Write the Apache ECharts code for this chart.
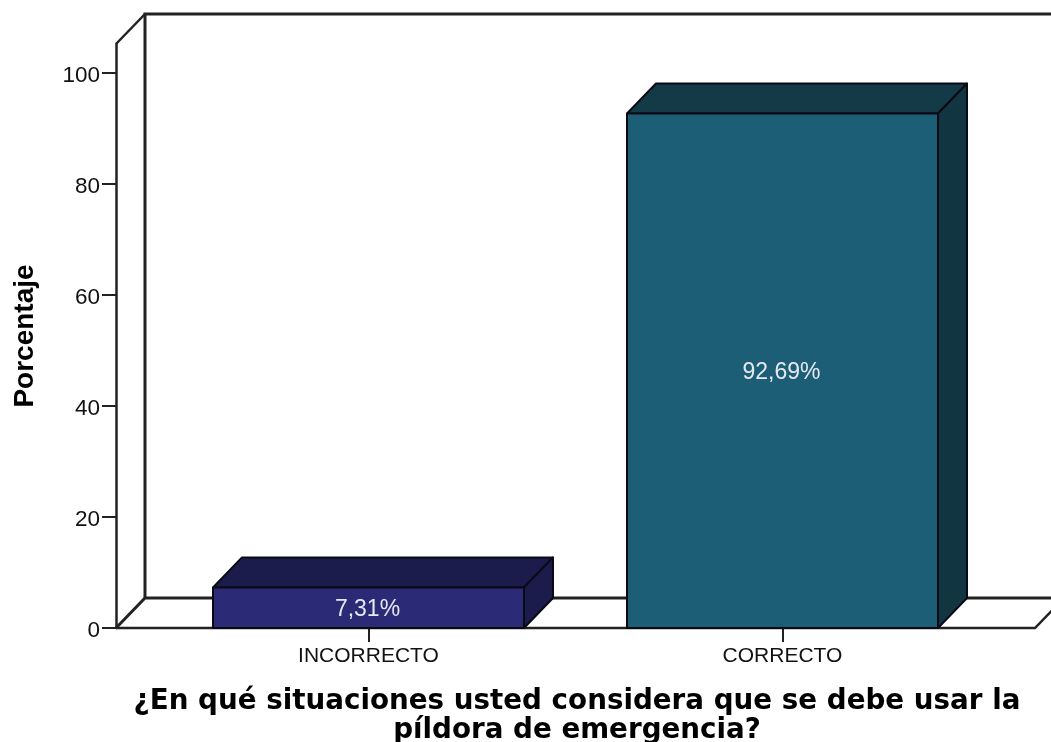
<!DOCTYPE html>
<html>
<head>
<meta charset="utf-8">
<style>html,body{margin:0;padding:0;background:#fff}#chart{width:1051px;height:742px}</style>
<script src="https://cdn.jsdelivr.net/npm/echarts@6/dist/echarts.min.js"></script>
</head>
<body>
<div id="chart"></div>
<script>
const categories = ['INCORRECTO', 'CORRECTO'];
const percentages = [7.31, 92.69];
const percentLabels = ['7,31%', '92,69%'];
const yTickValues = [0, 20, 40, 60, 80, 100];
const frontColors = ['#2a2a76', '#1c5e75'];
const topColors = ['#1b1b4c', '#153a47'];
const sideColors = ['#1b1b4c', '#123641'];

// Oblique depth of the box, and how far the floor runs past the category band.
const depthX = 29, depthY = 30;
const floorOverhang = 45.5;
const yMax = 105.2;
const lineColor = '#222222';

const chart = echarts.init(document.getElementById('chart'), null, {renderer: 'canvas'});

function renderFrame(params, api) {
  const cs = params.coordSys;
  const left = cs.x - floorOverhang, right = cs.x + cs.width + floorOverhang;
  const floor = api.coord([0, 0])[1], top = api.coord([0, yMax])[1];
  const line = (pts, width) => ({
    type: 'polyline',
    shape: {points: pts},
    style: {fill: null, stroke: lineColor, lineWidth: width, lineJoin: 'miter'}
  });
  return {
    type: 'group',
    children: [
      line([[left + depthX, floor - depthY], [left + depthX, top - depthY], [right + depthX, top - depthY]], 3),
      line([[left, top], [left + depthX, top - depthY]], 2.5),
      line([[left, floor], [left + depthX, floor - depthY], [right + depthX, floor - depthY]], 3),
      line([[left, floor], [right, floor], [right + depthX, floor - depthY]], 2.5)
    ]
  };
}

function renderBox(params, api) {
  const i = params.dataIndex;
  const center = api.coord([api.value(0), api.value(1)]);
  const base = api.coord([api.value(0), 0]);
  const half = api.size([1, 0])[0] * 0.3756;
  const x0 = center[0] - half, x1 = center[0] + half, yt = center[1], yb = base[1];
  const edge = {stroke: '#0a0a14', lineWidth: 2, lineJoin: 'round'};
  const poly = (pts, fill) => ({type: 'polygon', shape: {points: pts}, style: Object.assign({fill}, edge)});
  return {
    type: 'group',
    children: [
      poly([[x0, yt], [x0 + depthX, yt - depthY], [x1 + depthX, yt - depthY], [x1, yt]], topColors[i]),
      poly([[x1, yt], [x1 + depthX, yt - depthY], [x1 + depthX, yb - depthY], [x1, yb]], sideColors[i]),
      poly([[x0, yt], [x1, yt], [x1, yb], [x0, yb]], frontColors[i]),
      {
        type: 'text',
        style: {
          x: center[0] - 1, y: (yt + yb) / 2 + 2,
          text: percentLabels[i],
          fill: '#e4e8f0',
          font: '23px "Liberation Sans"',
          align: 'center', verticalAlign: 'middle'
        }
      }
    ]
  };
}

chart.setOption({
  animation: false,
  backgroundColor: '#fff',
  grid: {left: 161.5, right: 61.5, top: 44, bottom: 114, containLabel: false, outerBoundsMode: 'none'},
  xAxis: {
    type: 'category',
    data: categories,
    axisLine: {show: false},
    axisTick: {show: true, alignWithLabel: true, length: 14, lineStyle: {color: lineColor, width: 2}},
    axisLabel: {color: '#111', fontFamily: 'Liberation Sans', fontSize: 21, margin: 18},
    name: '¿En qué situaciones usted considera que se debe usar la\npíldora de emergencia?',
    nameLocation: 'middle',
    nameGap: 59,
    nameMoveOverlap: false,
    nameTextStyle: {color: '#000', fontFamily: 'DejaVu Sans', fontWeight: 'bold', fontSize: 27.75, lineHeight: 29, verticalAlign: 'top', padding: [0, 0, 0, 3]}
  },
  yAxis: {
    type: 'value',
    min: 0,
    max: yMax,
    offset: floorOverhang,
    axisLine: {show: true, lineStyle: {color: lineColor, width: 2.5}},
    axisTick: {show: true, length: 14, customValues: yTickValues, lineStyle: {color: lineColor, width: 2}},
    axisLabel: {color: '#111', fontFamily: 'Liberation Sans', fontSize: 22.5, margin: 16, verticalAlign: 'top', lineHeight: 6, customValues: yTickValues},
    splitLine: {show: false},
    name: 'Porcentaje',
    nameLocation: 'middle',
    nameGap: 77,
    nameMoveOverlap: false,
    nameTextStyle: {color: '#000', fontFamily: 'Liberation Sans', fontWeight: 'bold', fontSize: 28}
  },
  series: [
    {
      type: 'custom',
      coordinateSystem: 'cartesian2d',
      data: [[0, 0]],
      z: 1,
      clip: false,
      silent: true,
      renderItem: renderFrame
    },
    {
      type: 'custom',
      coordinateSystem: 'cartesian2d',
      data: categories.map((c, i) => [i, percentages[i]]),
      encode: {x: 0, y: 1},
      z: 2,
      clip: false,
      renderItem: renderBox
    }
  ]
});
</script>
</body>
</html>
